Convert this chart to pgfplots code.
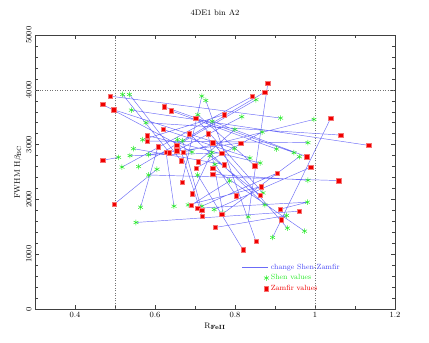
\documentclass[border=0pt]{standalone}
\usepackage{pgfplots}
\pgfplotsset{compat=1.18}
\definecolor{shengreen}{RGB}{40,235,40}
\definecolor{zamred}{RGB}{240,0,0}
\definecolor{chblue}{RGB}{70,70,245}
\pgfplotsset{
  lineleg/.style={legend image code/.code={\draw[##1] (0pt,0pt) -- (26pt,0pt);}},
  markleg/.style={legend image code/.code={\draw[##1] plot coordinates {(24pt,0pt)};}},
}
\begin{document}
\begin{tikzpicture}[x=1pt,y=1pt]
\useasboundingbox (0,0) rectangle (429,343);
\begin{axis}[
  at={(35pt,34pt)}, anchor=south west,
  scale only axis, width=360pt, height=274pt,
  xmin=0.3, xmax=1.2, ymin=0, ymax=5000,
  xtick={0.4,0.6,0.8,1,1.2},
  minor xtick={0.3,0.5,0.7,0.9,1.1},
  ytick={0,1000,2000,3000,4000,5000},
  minor y tick num=4,
  tick align=inside,
  major tick length=4pt, minor tick length=3pt,
  tick style={black!75, line width=0.4pt},
  axis line style={black!75, line width=0.5pt},
  /pgf/number format/1000 sep={},
  ticklabel style={font=\fontsize{8.5}{10}\selectfont},
  yticklabel style={rotate=90, anchor=south},
  title={4DE1 bin A2},
  title style={font=\fontsize{8}{10}\selectfont, at={(0.5,1)}, anchor=south, yshift=10pt},
  xlabel={$\mathrm{R}_{\mathbf{FeII}}$},
  xlabel style={font=\fontsize{8.5}{10}\selectfont, yshift=2pt},
  ylabel={FWHM H$\beta_{\mathrm{BC}}$},
  ylabel style={font=\fontsize{8}{10}\selectfont, yshift=-2pt},
  unbounded coords=jump,
  legend style={at={(axis cs:0.81,900)}, anchor=north west, draw=none, fill=none,
    font=\fontsize{7.5}{9}\selectfont, row sep=0pt, cells={anchor=west}},
]
% reference lines
\addplot[forget plot, black!55, dash pattern=on 1pt off 1.5pt, line width=0.45pt] coordinates {(0.5,0) (0.5,5000)};
\addplot[forget plot, black!55, dash pattern=on 1pt off 1.5pt, line width=0.45pt] coordinates {(1.0,0) (1.0,5000)};
\addplot[forget plot, black!55, dash pattern=on 1pt off 1.5pt, line width=0.45pt] coordinates {(0.3,4000) (1.2,4000)};
% change Shen -> Zamfir (pairs separated by nan)
\addplot[chblue, line width=0.45pt, opacity=0.8, lineleg] coordinates {
(0.541,3629) (1.134,2986) (0.5,nan)
(0.5775,3400) (1.064,3174) (0.5,nan)
(0.894,1306) (1.039,3478) (0.5,nan)
(0.9975,3460) (0.671,2865) (0.5,nan)
(0.914,3484) (0.4875,3884) (0.5,nan)
(0.5525,1579) (0.961,1785) (0.5,nan)
(0.605,2550) (0.498,1912) (0.5,nan)
(0.509,2768) (0.469,2713) (0.5,nan)
(0.727,3806) (0.8525,1233) (0.5,nan)
(0.7067,2446) (0.82,1080) (0.5,nan)
(0.584,2446) (1.059,2344) (0.5,nan)
(0.519,3915) (0.636,2853) (0.5,nan)
(0.536,3915) (0.665,2708) (0.5,nan)
(0.6925,2865) (0.469,3733) (0.5,nan)
(0.7988,2926) (0.497,3636) (0.5,nan)
(0.9475,2853) (0.6225,3691) (0.5,nan)
(0.904,2919) (0.64,3618) (0.5,nan)
(0.8375,2755) (0.62,3278) (0.5,nan)
(0.863,2664) (0.581,3163) (0.5,nan)
(0.9825,3035) (0.581,3065) (0.5,nan)
(0.564,1857) (0.6075,2963) (0.5,nan)
(0.6475,1876) (0.6275,2865) (0.5,nan)
(0.8525,3819) (0.654,2986) (0.5,nan)
(0.817,3509) (0.654,2890) (0.5,nan)
(0.833,1681) (0.882,4115) (0.5,nan)
(0.559,2599) (0.874,3957) (0.5,nan)
(0.5175,2590) (0.843,3878) (0.5,nan)
(0.569,3090) (0.7725,3545) (0.5,nan)
(0.87,2118) (0.702,3484) (0.5,nan)
(0.875,1900) (0.686,3199) (0.5,nan)
(0.77,1754) (0.7325,3199) (0.5,nan)
(0.584,2817) (0.814,3029) (0.5,nan)
(0.931,1475) (0.744,3035) (0.5,nan)
(0.5375,2799) (0.767,2847) (0.5,nan)
(0.8,3278) (0.708,2690) (0.5,nan)
(0.546,2926) (0.773,2635) (0.5,nan)
(0.707,3545) (0.849,2617) (0.5,nan)
(0.974,1420) (0.744,2573) (0.5,nan)
(0.868,3229) (0.703,2573) (0.5,nan)
(0.743,3424) (0.979,2780) (0.5,nan)
(0.748,1815) (0.989,2586) (0.5,nan)
(0.717,3885) (0.6675,2318) (0.5,nan)
(0.9825,2349) (0.744,2458) (0.5,nan)
(0.7425,2859) (0.693,2100) (0.5,nan)
(0.683,1900) (0.865,2234) (0.5,nan)
(0.737,2799) (0.8625,2081) (0.5,nan)
(0.75,2640) (0.803,2070) (0.5,nan)
(0.7867,2337) (0.69,1894) (0.5,nan)
(0.981,1949) (0.707,1839) (0.5,nan)
(0.669,3072) (0.717,1797) (0.5,nan)
(0.656,3090) (0.718,1694) (0.5,nan)
(0.961,2780) (0.767,1724) (0.5,nan)
(0.929,1706) (0.751,1488) (0.5,nan)
(0.717,1876) (0.906,2482) (0.5,nan)
(0.981,1949) (0.9125,1821) (0.5,nan)
(0.929,1706) (0.9157,1626)
};
\addlegendentry{\textcolor{chblue}{change Shen-Zamfir}}
% Shen values
\addplot[only marks, mark=asterisk, mark size=2.8pt, shengreen, line width=0.5pt, markleg] coordinates {
(0.519,3915) (0.536,3915) (0.541,3629) (0.5775,3400) (0.569,3090) (0.656,3090)
(0.669,3072) (0.546,2926) (0.5375,2799) (0.509,2768) (0.584,2817) (0.5175,2590)
(0.559,2599) (0.605,2550) (0.584,2446) (0.717,3885) (0.727,3806) (0.8525,3819)
(0.817,3509) (0.743,3424) (0.707,3545) (0.8,3278) (0.868,3229) (0.7988,2926)
(0.6925,2865) (0.7425,2859) (0.737,2799) (0.8375,2755) (0.863,2664) (0.914,3484)
(0.9975,3460) (0.9825,3035) (0.904,2919) (0.9475,2853) (0.961,2780) (0.564,1857)
(0.5525,1579) (0.6475,1876) (0.7067,2446) (0.75,2640) (0.7867,2337) (0.683,1900)
(0.717,1876) (0.748,1815) (0.77,1754) (0.833,1681) (0.87,2118) (0.875,1900)
(0.9825,2349) (0.981,1949) (0.929,1706) (0.931,1475) (0.974,1420) (0.894,1306)
};
\addlegendentry{\textcolor{shengreen}{Shen values}}
% Zamfir values
\addplot[only marks, mark=square*, mark size=2.2pt, zamred, mark options={draw=zamred!55, fill=zamred, line width=0.5pt}, markleg] coordinates {
(0.4875,3884) (0.469,3733) (0.497,3636) (0.6225,3691) (0.64,3618) (0.62,3278)
(0.581,3163) (0.581,3065) (0.6075,2963) (0.6275,2865) (0.636,2853) (0.654,2986)
(0.654,2890) (0.671,2865) (0.665,2708) (0.469,2713) (0.882,4115) (0.874,3957)
(0.843,3878) (0.7725,3545) (0.702,3484) (0.686,3199) (0.7325,3199) (0.814,3029)
(0.744,3035) (0.767,2847) (0.708,2690) (0.773,2635) (0.849,2617) (0.744,2573)
(0.703,2573) (1.039,3478) (1.064,3174) (1.134,2986) (0.979,2780) (0.989,2586)
(0.6675,2318) (0.498,1912) (0.744,2458) (0.693,2100) (0.865,2234) (0.8625,2081)
(0.803,2070) (0.69,1894) (0.707,1839) (0.717,1797) (0.718,1694) (0.767,1724)
(0.751,1488) (0.8525,1233) (0.82,1080) (0.906,2482) (1.059,2344) (0.9125,1821)
(0.961,1785) (0.9157,1626)
};
\addlegendentry{\textcolor{zamred}{Zamfir values}}
\end{axis}
\end{tikzpicture}
\end{document}
